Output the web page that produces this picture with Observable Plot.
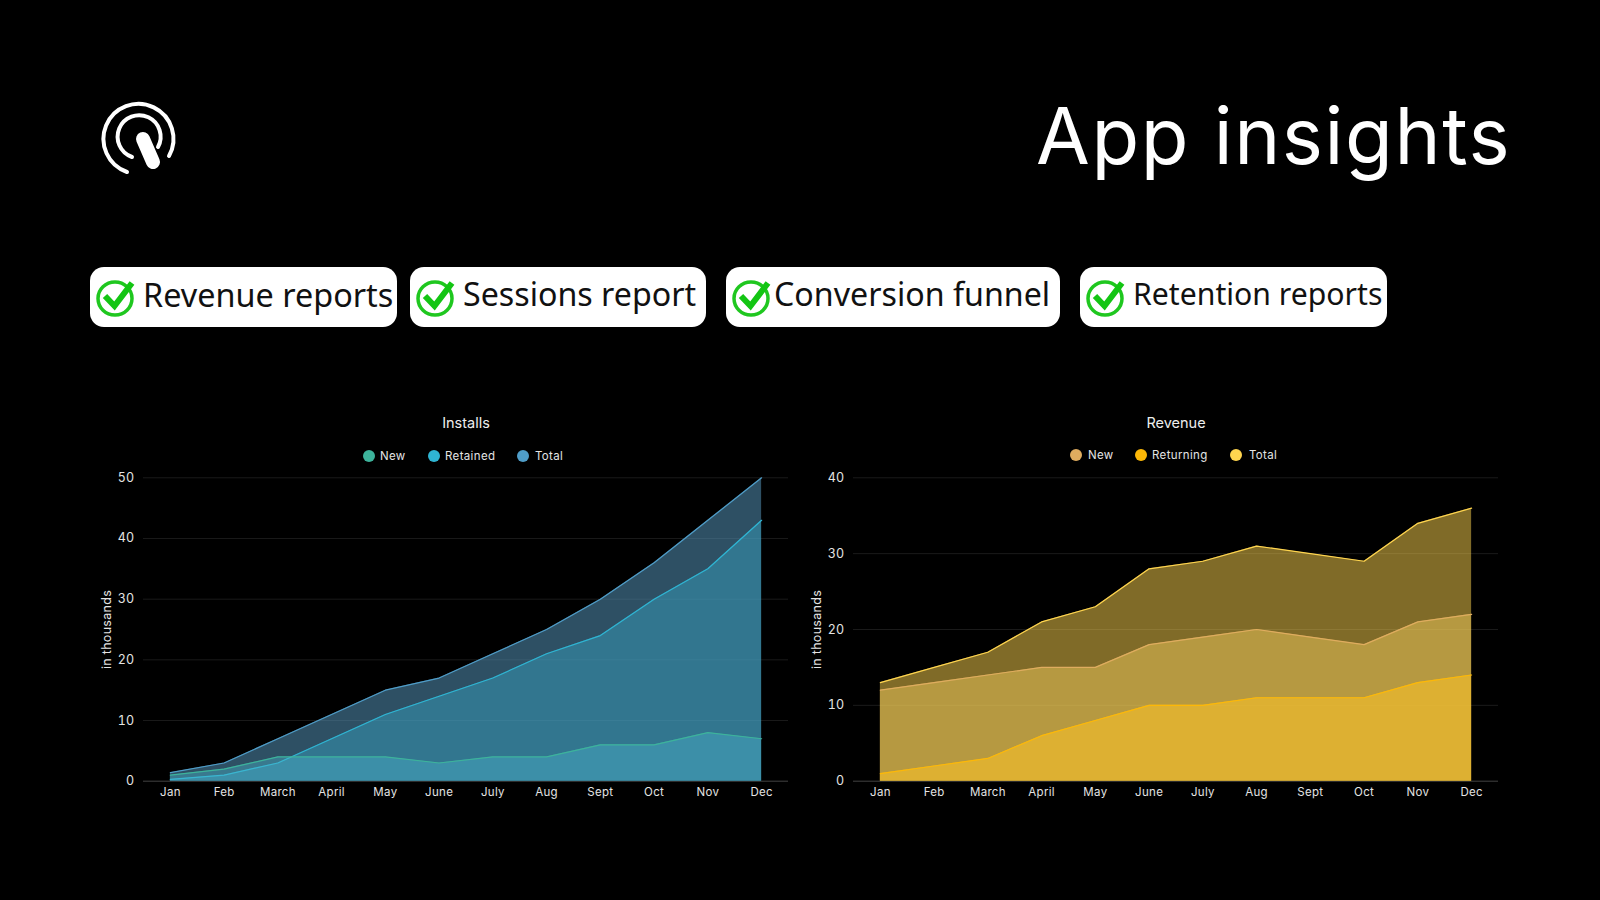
<!DOCTYPE html>
<html><head><meta charset="utf-8">
<script src="https://cdn.jsdelivr.net/npm/d3@7"></script>
<script src="https://cdn.jsdelivr.net/npm/@observablehq/plot@0.6"></script>
<style>
html,body{margin:0;padding:0;background:#000;width:1600px;height:900px;overflow:hidden}
body{position:relative;font-family:"Inter",sans-serif;color:#fff}
.abs{position:absolute;white-space:nowrap}
.title{left:1036px;top:84px;font-size:78px;line-height:104px;letter-spacing:1.6px;font-family:"Inter"}
.pill{background:#fff;border-radius:14px;color:#111;height:60px;top:267px}
.pill svg{position:absolute;left:5px;top:10px}
.pill span{position:absolute;font-family:"Noto Sans";line-height:44px}
.ct{font-size:14.5px;line-height:20px;color:#eee;transform:translateX(-50%);top:413px}
.dot{width:12px;height:12px;border-radius:50%}
.lg{font-size:11.5px;line-height:16px;color:#e4e4e4;letter-spacing:0.35px}
</style></head><body>
<div id="root"></div>
<script>
const months = ["Jan","Feb","March","April","May","June","July","Aug","Sept","Oct","Nov","Dec"];
const installsNew = [1,2,4,4,4,3,4,4,6,6,8,7];
const installsRetained = [0.3,1,3,7,11,14,17,21,24,30,35,43];
const installsTotal = [1.4,3,7,11,15,17,21,25,30,36,43,50];
const revenueNew = [12,13,14,15,15,18,19,20,19,18,21,22];
const revenueReturning = [1,2,3,6,8,10,10,11,11,11,13,14];
const revenueTotal = [13,15,17,21,23,28,29,31,30,29,34,36];
const installsTicks = [0,10,20,30,40,50];
const revenueTicks = [0,10,20,30,40];
const pills = [
 {t:"Revenue reports",l:90,w:307,tx:53,fs:32.4,ty:5},
 {t:"Sessions report",l:410,w:296,tx:53,fs:32.2,ty:5},
 {t:"Conversion funnel",l:726,w:334,tx:48,fs:32.2,ty:5},
 {t:"Retention reports",l:1080,w:307,tx:53,fs:30.2,ty:5}
];
const root = document.getElementById("root");
function add(cls,css,html){const d=document.createElement("div");d.className="abs "+cls;Object.assign(d.style,css);if(html!=null)d.innerHTML=html;root.appendChild(d);return d;}
add("title",{}, "App insights");
add("",{left:"91px",top:"89px"},`<svg width="100" height="100" viewBox="90 90 100 100" fill="none" stroke="#fff" stroke-linecap="round">
<path d="M126 173 A35 35 0 1 1 168 157" stroke-width="4"/>
<path d="M131 158 A21.500 21.500 0 1 1 157 148" stroke-width="4"/>
<path d="M142 140 L152 163" stroke-width="14"/></svg>`);
const check=`<svg width="42" height="42" viewBox="0 0 42 42" fill="none"><ellipse cx="20" cy="21.500" rx="17" ry="16.500" stroke="#1fc71f" stroke-width="3.500"/><path d="M10 19 L19.500 29 L37 6" stroke="#13c513" stroke-width="6"/></svg>`;
pills.forEach(p=>add("pill",{left:p.l+"px",width:p.w+"px"},check+`<span style="left:${p.tx}px;top:${p.ty}px;font-size:${p.fs}px">${p.t}</span>`));

function chart(left,yMax,ticks,series){
  const rows=s=>months.map((m,i)=>({month:m,value:s.values[i]}));
  const marks=[
    Plot.gridY(ticks,{stroke:"#fff",strokeOpacity:0.1}),
    Plot.ruleY([0],{stroke:"#fff",strokeOpacity:0.18}),
    Plot.axisX({tickSize:0,tickPadding:6.5,label:null,fontSize:11.5}),
    Plot.axisY(ticks,{tickSize:0,tickPadding:9,fontSize:12.5,label:"in thousands",labelAnchor:"center",labelArrow:"none",labelOffset:41}),
  ];
  series.forEach(s=>{
    marks.push(Plot.areaY(rows(s),{x:"month",y:"value",fill:s.fill,fillOpacity:s.opacity}));
    marks.push(Plot.lineY(rows(s),{x:"month",y:"value",stroke:s.color,strokeWidth:1.2}));
  });
  const svg=Plot.plot({
    width:710,height:350,marginLeft:53,marginRight:12,marginTop:17.3,marginBottom:29.3,
    style:{background:"transparent",color:"#e4e4e4",fontFamily:"Inter,sans-serif",fontSize:"11.5px",letterSpacing:"0.3px"},
    x:{type:"point",domain:months,padding:0.5,round:false},
    y:{domain:[0,yMax]},
    marks
  });
  svg.style.position="absolute";svg.style.left=left+"px";svg.style.top="460px";
  root.appendChild(svg);
}
const c1={total:"#4f9dc8",retained:"#2fb5d3",nw:"#3db39b"};
const c2={total:"#ffd54f",nw:"#dfac5f",ret:"#fdb807"};
chart(90,50,installsTicks,[
 {values:installsTotal,color:c1.total,fill:"#5491b6",opacity:0.55},
 {values:installsRetained,color:c1.retained,fill:"#3aafcf",opacity:0.4},
 {values:installsNew,color:c1.nw,fill:"#4cb7cd",opacity:0.4}
]);
chart(800,40,revenueTicks,[
 {values:revenueTotal,color:c2.total,fill:c2.total,opacity:0.5},
 {values:revenueNew,color:c2.nw,fill:"#ebc75a",opacity:0.5},
 {values:revenueReturning,color:c2.ret,fill:"#f6bf28",opacity:0.6}
]);
add("ct",{left:"466px"},"Installs");
add("ct",{left:"1176px"},"Revenue");
[[369,380,"New",c1.nw,456],[434,445,"Retained",c1.retained,456],[523,535,"Total",c1.total,456],
 [1076,1088,"New",c2.nw,455],[1141,1152,"Returning",c2.ret,455],[1236,1249,"Total",c2.total,455]].forEach(([cx,tx,t,c,y])=>{
  add("dot",{left:(cx-6)+"px",top:(y-6)+"px",background:c});
  add("lg",{left:tx+"px",top:(y-8)+"px"},t);
});
</script>
</body></html>
